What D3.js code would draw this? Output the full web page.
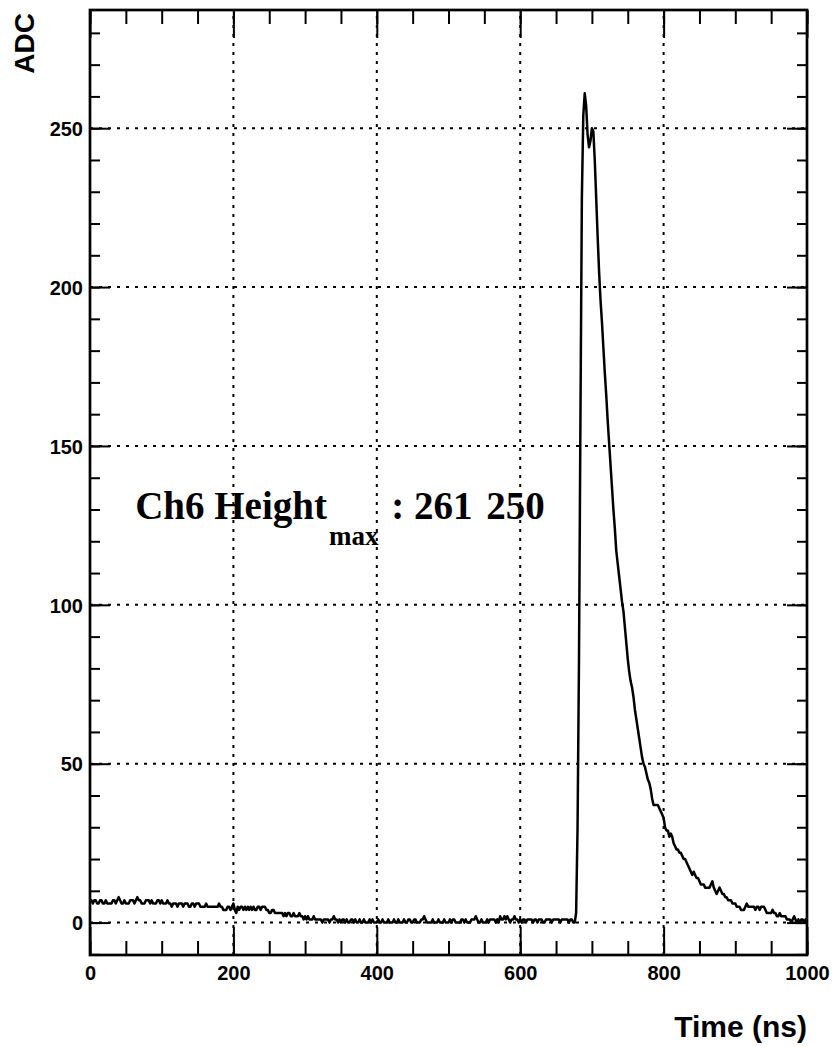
<!DOCTYPE html>
<html>
<head>
<meta charset="utf-8">
<script src="https://cdnjs.cloudflare.com/ajax/libs/d3/7.8.5/d3.min.js"></script>
<style>
  body { margin: 0; background: #fff; }
  svg { display: block; }
  .tick-label { font-family: 'Liberation Sans', Arial, Helvetica, sans-serif; font-weight: bold; font-size: 20px; fill: #000; }
  .axis-title { font-family: 'Liberation Sans', Arial, Helvetica, sans-serif; font-weight: bold; font-size: 28px; fill: #000; }
  .info { font-family: 'Liberation Serif', 'Times New Roman', serif; font-weight: bold; font-size: 39px; white-space: pre; fill: #000; }
</style>
</head>
<body>
<div id="chart"></div>
<script>
// waveform, one ADC sample every 2 ns (0 .. 1000 ns)
const sampleNs = 2;
const adc = [
  7,7,6,7,7,6,6,7,7,6,6,7,6,6,6,6,7,7,6,7,8,7,6,6,7,        // 0
  6,6,6,7,7,7,6,7,8,7,7,6,6,6,7,7,7,6,7,6,6,6,7,7,6,        // 50
  7,6,6,6,7,6,6,5,6,6,6,5,6,6,6,5,6,6,6,5,5,6,6,5,6,        // 100
  6,6,5,5,5,5,6,5,5,5,5,5,5,5,5,6,5,5,4,4,4,5,5,4,5,        // 150
  6,4,3,5,4,5,5,4,5,4,5,4,5,4,5,4,4,5,5,4,5,5,5,4,4,        // 200
  3,3,4,4,3,3,3,3,3,3,2,3,2,3,3,2,2,3,2,2,2,3,2,2,1,        // 250
  2,1,2,1,1,1,2,1,1,1,1,1,0,1,1,1,1,0,1,1,2,1,1,0,1,        // 300
  0,1,1,0,1,0,0,1,1,0,1,0,0,1,0,0,1,0,0,0,1,0,1,0,0,        // 350
  0,1,0,0,1,0,0,0,1,0,0,0,1,0,0,1,0,0,0,1,0,0,1,1,0,        // 400
  0,1,1,0,0,0,1,1,2,1,0,0,0,0,1,0,0,0,1,0,0,0,1,0,0,        // 450
  0,1,0,1,1,0,0,0,0,1,1,0,1,0,0,0,1,1,1,2,1,0,0,1,0,        // 500
  0,0,1,0,1,1,1,1,0,1,0,2,1,1,2,1,2,1,0,1,1,2,1,1,0,        // 550
  1,0,1,1,0,1,1,1,1,0,1,1,0,1,1,1,0,0,1,1,1,1,0,1,1,        // 600
  1,1,1,0,1,1,1,1,1,0,1,1,0,0,3,30,83,158,228,254,261,257,248,244,246,   // 650
  250,249,240,228,216,205,196,189,181,173,166,158,151,144,137,130,124,117,113,109,105,101,98,93,88, // 700
  83,79,76,74,71,67,64,61,58,55,52,50,49,47,45,44,42,39,37,37,37,37,36,35,34,   // 750
  33,30,29,29,27,28,27,25,24,23,23,22,22,21,20,20,19,18,17,16,15,16,15,14,14,   // 800
  13,12,12,12,11,11,11,11,12,13,11,10,9,10,11,10,9,9,8,8,7,7,7,6,6,             // 850
  6,5,5,5,4,4,4,5,6,5,5,5,5,5,4,5,5,4,5,5,5,4,3,3,3,                           // 900
  3,4,3,3,2,2,3,2,2,2,2,1,1,1,0,1,2,1,0,1,0,1,1,0,1,                           // 950
  0
];

const xMajor = [0, 200, 400, 600, 800, 1000];
const xMinor = d3.range(0, 1001, 50);
const yMajor = [0, 50, 100, 150, 200, 250];
const yMinor = d3.range(-10, 281, 10);
const peaks = [261, 250];

const width = 833, height = 1047;
const frame = { left: 90, right: 807, top: 10, bottom: 955 };
const tick = { xMajor: 28, xMinor: 14, yMajor: 20, yMinor: 10 };

const svg = d3.select('#chart').append('svg')
  .attr('width', width)
  .attr('height', height);

const x = d3.scaleLinear().domain([0, 1000]).range([frame.left, frame.right]);
const y = d3.scaleLinear().domain([-10.2, 287.2]).range([frame.bottom, frame.top]);

// dotted grid at major ticks
const grid = svg.append('g').attr('class', 'grid')
  .attr('stroke', '#000')
  .attr('stroke-width', 2)
  .attr('stroke-dasharray', '3,6');

grid.selectAll('.gx')
  .data(xMajor.slice(1, -1))
  .enter().append('line')
    .attr('x1', d => x(d)).attr('x2', d => x(d))
    .attr('y1', frame.bottom).attr('y2', frame.top);

grid.selectAll('.gy')
  .data(yMajor)
  .enter().append('line')
    .attr('x1', frame.left).attr('x2', frame.right)
    .attr('y1', d => y(d)).attr('y2', d => y(d));

// the waveform
const line = d3.line()
  .x((d, i) => x(i * sampleNs))
  .y(d => y(d));

svg.append('path')
  .datum(adc)
  .attr('fill', 'none')
  .attr('stroke', '#000')
  .attr('stroke-width', 2.5)
  .attr('stroke-linejoin', 'round')
  .attr('d', line);

// ticks on all four sides, pointing inward
function addAxis(axis, tx, ty) {
  const g = svg.append('g')
    .attr('transform', 'translate(' + tx + ',' + ty + ')')
    .attr('stroke-width', 2)
    .call(axis);
  g.select('.domain').remove();
  return g;
}

const bottomMajor = addAxis(d3.axisBottom(x).tickValues(xMajor).tickSize(-tick.xMajor).tickPadding(11).tickFormat(d3.format('d')), 0, frame.bottom);
addAxis(d3.axisBottom(x).tickValues(xMinor).tickSize(-tick.xMinor).tickFormat(''), 0, frame.bottom);
addAxis(d3.axisTop(x).tickValues(xMajor).tickSize(-tick.xMajor).tickFormat(''), 0, frame.top);
addAxis(d3.axisTop(x).tickValues(xMinor).tickSize(-tick.xMinor).tickFormat(''), 0, frame.top);

const leftMajor = addAxis(d3.axisLeft(y).tickValues(yMajor).tickSize(-tick.yMajor).tickPadding(7).tickFormat(d3.format('d')), frame.left, 0);
addAxis(d3.axisLeft(y).tickValues(yMinor).tickSize(-tick.yMinor).tickFormat(''), frame.left, 0);
addAxis(d3.axisRight(y).tickValues(yMajor).tickSize(-tick.yMajor).tickFormat(''), frame.right, 0);
addAxis(d3.axisRight(y).tickValues(yMinor).tickSize(-tick.yMinor).tickFormat(''), frame.right, 0);

bottomMajor.selectAll('text').attr('class', 'tick-label').attr('dy', '0.71em');
leftMajor.selectAll('text').attr('class', 'tick-label').attr('dy', '0.36em');

// frame
svg.append('rect')
  .attr('x', frame.left)
  .attr('y', frame.top)
  .attr('width', frame.right - frame.left)
  .attr('height', frame.bottom - frame.top)
  .attr('fill', 'none')
  .attr('stroke', '#000')
  .attr('stroke-width', 2.7);

// axis titles
svg.append('text')
  .attr('class', 'axis-title')
  .attr('text-anchor', 'end')
  .attr('x', frame.right)
  .attr('y', 1037)
  .style('font-size', '30px')
  .text('Time (ns)');

svg.append('text')
  .attr('class', 'axis-title')
  .attr('text-anchor', 'end')
  .attr('transform', 'translate(33.5,' + (frame.top + 3) + ') rotate(-90)')
  .text('ADC');

// peak heights label
const info = svg.append('text')
  .attr('class', 'info')
  .attr('x', x(63))
  .attr('y', y(127));

info.append('tspan').text('Ch6 Height');
info.append('tspan').attr('dy', 26).attr('dx', 2).style('font-size', '27px').text('max');
info.append('tspan').attr('dy', -26).attr('dx', 3).text(' : ' + peaks[0]);
info.append('tspan').attr('dx', 4).text(' ' + peaks[1]);
</script>
</body>
</html>
